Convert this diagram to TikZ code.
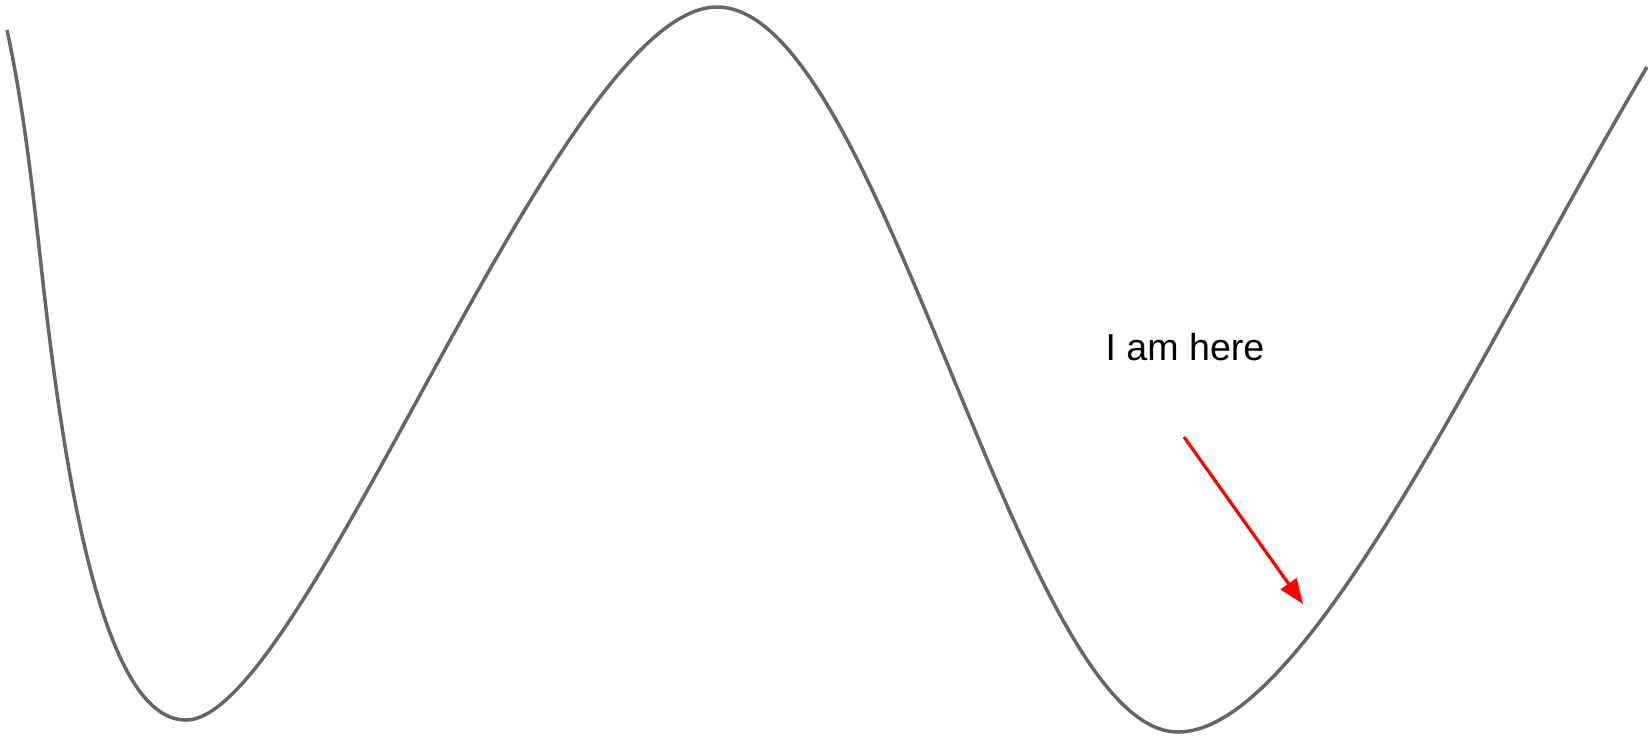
\documentclass[tikz,border=0pt]{standalone}
\usepackage{fontspec}
\setmainfont{Liberation Sans}
\usetikzlibrary{arrows.meta}
\definecolor{curvegray}{HTML}{666666}

\begin{document}
\begin{tikzpicture}[
                x=0.5pt, y=-0.5pt,
                landscape/.style={draw=curvegray, line width=1.75pt, line join=round},
                pointer/.style={draw=red, line width=1.6pt, -{Triangle[length=12.5pt,width=9.5pt]}},
                herelabel/.style={font=\fontsize{18.8}{22}\selectfont, anchor=base, inner sep=0pt}
            ]

            \useasboundingbox (0,0) rectangle (1648,736);

            \coordinate (start) at (7,30);
            \coordinate (bend) at (45,300);
            \coordinate (low1) at (186,720);
            \coordinate (peak) at (717,7);
            \coordinate (low2) at (1178,732);
            \coordinate (rim) at (1647,67);

            \draw[landscape] (start)
                .. controls (26.4,120) and (34.6,210) .. (bend)
                .. controls (73.75,550) and (116,720) .. (low1)
                .. controls (306,720) and (559,7) .. (peak)
                .. controls (882,7) and (1019,732) .. (low2)
                .. controls (1308,732) and (1490,330) .. (rim);

            \node[herelabel] (here) at (1185,360) {I am here};

            \coordinate (from) at (1184,437);
            \coordinate (spot) at (1303,604);
            \draw[pointer] (from) -- (spot);

        \end{tikzpicture}
\end{document}
